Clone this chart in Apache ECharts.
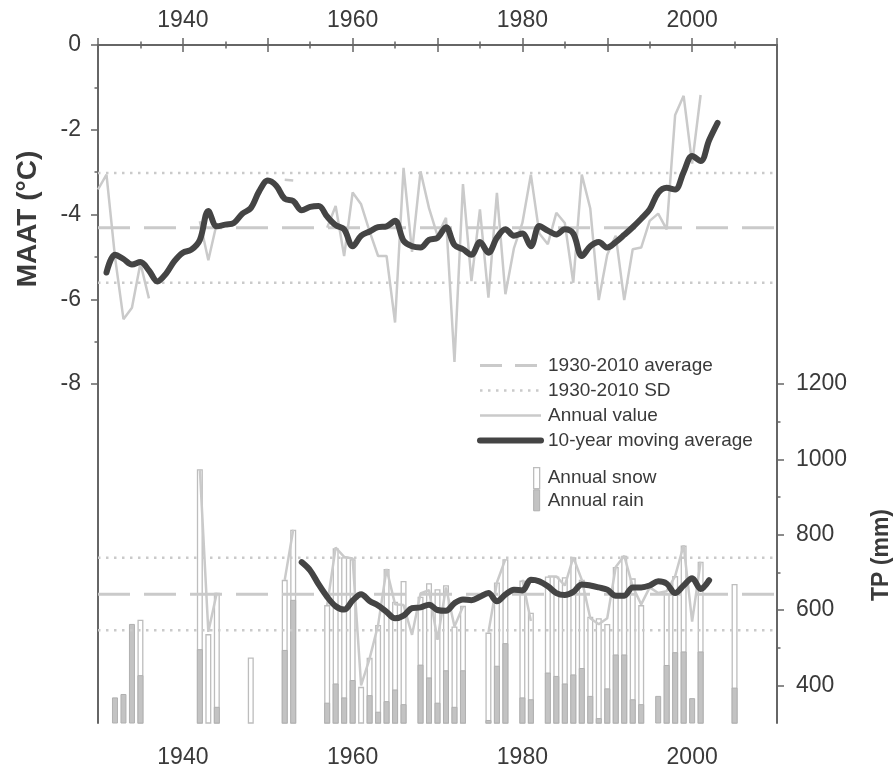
<!DOCTYPE html>
<html>
<head>
<meta charset="utf-8">
<title>MAAT and TP</title>
<script src="https://cdn.jsdelivr.net/npm/echarts@6.0.0/dist/echarts.min.js"></script>
<style>
  html, body { margin: 0; padding: 0; background: #fff; }
  #chart { width: 895px; height: 769px; }
</style>
</head>
<body>
<div id="chart"></div>
<script>
// shared x values (one entry per year)
const years = [
  1930, 1931, 1932, 1933, 1934, 1935, 1936, 1937, 1938, 1939,
  1940, 1941, 1942, 1943, 1944, 1945, 1946, 1947, 1948, 1949,
  1950, 1951, 1952, 1953, 1954, 1955, 1956, 1957, 1958, 1959,
  1960, 1961, 1962, 1963, 1964, 1965, 1966, 1967, 1968, 1969,
  1970, 1971, 1972, 1973, 1974, 1975, 1976, 1977, 1978, 1979,
  1980, 1981, 1982, 1983, 1984, 1985, 1986, 1987, 1988, 1989,
  1990, 1991, 1992, 1993, 1994, 1995, 1996, 1997, 1998, 1999,
  2000, 2001, 2002, 2003, 2004, 2005,
];

// mean annual air temperature (°C)
const maatAnnual = [
  -3.41, -3.06, -5.0, -6.47, -6.2, -5.15, -5.98, null, null, null,
  null, null, -4.16, -5.08, -4.2, null, null, null, null, null,
  null, null, -3.18, -3.2, null, null, null, -4.31, -3.8, -4.98,
  -3.48, -3.76, -4.4, -4.98, -4.98, -6.55, -2.9, -4.88, -2.98, -3.85,
  -4.5, -4.08, -7.48, -3.28, -5.57, -3.88, -5.96, -3.49, -5.88, -4.8,
  -4.2, -3.06, -4.45, -4.7, -3.96, -4.2, -5.61, -3.06, -3.86, -6.02,
  -4.95, -4.5, -6.02, -4.82, -4.78, -4.15, -3.98, -4.35, -1.65, -1.2,
  -2.8, -1.18, null, null, null, null,
];
const maatMoving = [
  null, -5.37, -4.95, -5.05, -5.18, -5.12, -5.32, -5.58, -5.4, -5.1,
  -4.9, -4.83, -4.6, -3.92, -4.28, -4.24, -4.2, -3.98, -3.85, -3.45,
  -3.2, -3.32, -3.63, -3.68, -3.9, -3.82, -3.8, -4.05, -4.25, -4.35,
  -4.75, -4.5, -4.4, -4.3, -4.28, -4.15, -4.62, -4.75, -4.78, -4.6,
  -4.55, -4.3, -4.72, -4.82, -4.95, -4.65, -4.9, -4.55, -4.35, -4.5,
  -4.45, -4.75, -4.27, -4.38, -4.47, -4.35, -4.45, -4.98, -4.75, -4.65,
  -4.78, -4.65, -4.48, -4.3, -4.1, -3.88, -3.49, -3.37, -3.41, -3.0,
  -2.62, -2.74, -2.25, -1.84, null, null,
];
const maatMean = -4.31;
const maatSdBand = [-3.02, -5.61];

// total precipitation (mm)
const tpAnnual = [
  null, null, null, null, null, null, null, null, null, null,
  null, null, 974, 542, 646, null, null, null, null, null,
  null, null, 680, 813, null, null, null, 613, 766, 741,
  737, 400, 471, 560, 709, 615, 613, 534, 644, 653,
  521, 660, 556, 609, null, null, 540, 673, 735, null,
  680, 571, null, 689, 689, 665, 740, 680, 578, 562,
  578, 714, 744, 662, 615, 660, 645, 650, 690, 772,
  569, 728, null, null, null, null,
];
const tpMoving = [
  null, null, null, null, null, null, null, null, null, null,
  null, null, null, null, null, null, null, null, null, null,
  null, null, null, null, 727, 705, 668, 635, 610, 601,
  625, 642, 624, 612, 595, 578, 585, 605, 607, 614,
  600, 598, 618, 628, 626, 635, 645, 623, 641, 654,
  652, 680, 676, 663, 645, 640, 648, 668, 665, 660,
  654, 638, 638, 660, 660, 665, 676, 670, 645, 665,
  684, 656, 679, null, null, null,
];
const rain = [
  null, null, 368, 377, 563, 427, null, null, null, null,
  null, null, 496, null, 343, null, null, null, null, null,
  null, null, 494, 627, null, null, null, 354, 405, 368,
  414, null, 374, 330, 358, 389, 350, null, 455, 421,
  354, 440, 343, 440, null, null, 308, 452, 512, null,
  368, 363, null, 434, 425, 405, 429, 446, 372, 313,
  392, 482, 482, 363, 350, null, 372, 454, 488, 490,
  366, 490, null, null, null, 394,
];
const snow = [
  null, null, null, null, null, 147, null, null, null, null,
  null, null, 478, 536, 303, null, null, null, 474, null,
  null, null, 186, 186, null, null, null, 259, 359, 372,
  321, 396, 99, 230, 351, 233, 327, null, 180, 250,
  301, 226, 213, 171, null, null, 232, 221, 223, null,
  310, 230, null, 255, 264, 282, 311, 234, 210, 265,
  171, 232, 262, 321, 263, null, null, 190, 202, 281,
  null, 238, null, null, null, 275,
];
const tpMean = 642;
const tpSdBand = [739, 546];

// axis ticks and labels
const xMajorTicks = [1930, 1940, 1950, 1960, 1970, 1980, 1990, 2000, 2010];
const xMinorTicks = [1935, 1945, 1955, 1965, 1975, 1985, 1995, 2005];
const xLabels = [1940, 1960, 1980, 2000];
const maatTicks = [0, -2, -4, -6, -8];
const maatMinorTicks = [-1, -3, -5, -7];
const tpTicks = [400, 600, 800, 1000, 1200];
const tpMinorTicks = [500, 700, 900, 1100];

const FONT = '"Liberation Sans", Arial, sans-serif';
const INK = '#3a3a3a';
const AXIS = '#666';
const LIGHT = '#cacaca';
const DARK = '#444';
const DASH = [32, 14];
const DOT = [2.5, 5.5];
const SNOW_STYLE = { color: '#fff', borderColor: '#bdbdbd', borderWidth: 1.3 };
const RAIN_STYLE = { color: '#c3c3c3', borderColor: '#b0b0b0', borderWidth: 1 };

const pairs = (vals) => years.map((y, i) => [y, vals[i]]);
const hline = (v) => [[1930, v], [2010, v]];
// snow sits on top of rain: its bar reaches rain + snow
const snowTop = years.map((y, i) => [y, snow[i] == null ? null : (rain[i] || 0) + snow[i]]);

const label = (values, margin) => ({
  customValues: values, margin, fontSize: 23, color: INK, fontFamily: FONT,
  formatter: (v) => String(v),
});
const tick = (values, length) => ({
  customValues: values, length, lineStyle: { color: AXIS, width: 1.5 },
});
const mainLine = { show: true, lineStyle: { color: AXIS, width: 2 } };
const noLine = { show: false };

const xBase = { type: 'value', min: 1930, max: 2010, splitLine: { show: false } };
const maatBase = { type: 'value', min: -16, max: 0, position: 'left', splitLine: { show: false } };
const tpBase = { type: 'value', min: 300, max: 2100, position: 'right', splitLine: { show: false } };

function lineSeries(name, data, yAxisIndex, style, z, smooth) {
  return {
    name, type: 'line', xAxisIndex: 0, yAxisIndex, data,
    symbol: 'none', silent: true, connectNulls: false, z, smooth: smooth || false,
    itemStyle: { color: style.color },
    lineStyle: style,
  };
}

const series = [
  {
    name: 'Annual snow', type: 'bar', xAxisIndex: 0, yAxisIndex: 2,
    data: snowTop, barWidth: 6, barGap: '-100%', z: 2, itemStyle: SNOW_STYLE,
  },
  {
    name: 'Annual rain', type: 'bar', xAxisIndex: 0, yAxisIndex: 2,
    data: pairs(rain), barWidth: 6, barGap: '-100%', z: 2, itemStyle: RAIN_STYLE,
  },
  lineSeries('1930-2010 average', hline(maatMean), 0, { color: LIGHT, width: 3, type: DASH }, 3),
  lineSeries('1930-2010 SD', hline(maatSdBand[0]), 0, { color: LIGHT, width: 2.5, type: DOT }, 3),
  lineSeries('1930-2010 SD', hline(maatSdBand[1]), 0, { color: LIGHT, width: 2.5, type: DOT }, 3),
  lineSeries('1930-2010 average', hline(tpMean), 2, { color: LIGHT, width: 3, type: DASH }, 3),
  lineSeries('1930-2010 SD', hline(tpSdBand[0]), 2, { color: LIGHT, width: 2.5, type: DOT }, 3),
  lineSeries('1930-2010 SD', hline(tpSdBand[1]), 2, { color: LIGHT, width: 2.5, type: DOT }, 3),
  lineSeries('Annual value', pairs(maatAnnual), 0, { color: LIGHT, width: 2.5 }, 4),
  lineSeries('Annual value', pairs(tpAnnual), 2, { color: LIGHT, width: 2.5 }, 4),
  lineSeries('10-year moving average', pairs(maatMoving), 0, { color: DARK, width: 6, cap: 'round', join: 'round' }, 5, 0.35),
  lineSeries('10-year moving average', pairs(tpMoving), 2, { color: DARK, width: 6, cap: 'round', join: 'round' }, 5, 0.35),
];

const option = {
  animation: false,
  backgroundColor: '#fff',
  grid: { left: 98, right: 118, top: 45, bottom: 46 },
  xAxis: [
    { ...xBase, position: 'bottom', axisLine: mainLine, axisTick: tick(xMajorTicks, 7), axisLabel: label(xLabels, 23) },
    { ...xBase, position: 'bottom', axisLine: noLine, axisTick: tick(xMinorTicks, 3.5), axisLabel: { show: false } },
    { ...xBase, position: 'top', axisLine: mainLine, axisTick: tick(xMajorTicks, 7), axisLabel: label(xLabels, 13) },
    { ...xBase, position: 'top', axisLine: noLine, axisTick: tick(xMinorTicks, 3.5), axisLabel: { show: false } },
  ],
  yAxis: [
    { ...maatBase, axisLine: mainLine, axisTick: tick(maatTicks, 7), axisLabel: label(maatTicks, 17) },
    { ...maatBase, axisLine: noLine, axisTick: tick(maatMinorTicks, 3.5), axisLabel: { show: false } },
    { ...tpBase, axisLine: mainLine, axisTick: tick(tpTicks, 7), axisLabel: label(tpTicks, 19) },
    { ...tpBase, axisLine: noLine, axisTick: tick(tpMinorTicks, 3.5), axisLabel: { show: false } },
  ],
  legend: [
    {
      data: [
        { name: '1930-2010 average', lineStyle: { type: [22, 13], width: 3 } },
        { name: '1930-2010 SD', lineStyle: { type: DOT, width: 2.5 } },
        { name: 'Annual value', lineStyle: { width: 2.5 } },
        { name: '10-year moving average', lineStyle: { width: 6 } },
      ],
      orient: 'vertical', left: 472, top: 351, itemWidth: 61, itemHeight: 12, itemGap: 6,
      selectedMode: false,
      itemStyle: { opacity: 0 },
      textStyle: { fontSize: 19, color: INK, fontFamily: FONT, padding: [0, 0, 0, 2] },
    },
    {
      data: [
        { name: 'Annual snow', icon: 'rect', itemStyle: SNOW_STYLE },
        { name: 'Annual rain', icon: 'rect', itemStyle: RAIN_STYLE },
      ],
      orient: 'vertical', left: 528, top: 462, itemWidth: 6, itemHeight: 21, itemGap: 0,
      selectedMode: false,
      textStyle: { fontSize: 19, color: INK, fontFamily: FONT, padding: [0, 0, 0, 3] },
    },
  ],
  graphic: [
    {
      type: 'text', x: 28, y: 219, rotation: Math.PI / 2,
      style: { text: 'MAAT (°C)', align: 'center', verticalAlign: 'middle', font: 'bold 28px ' + FONT, fill: INK },
    },
    {
      type: 'text', x: 882, y: 555, rotation: Math.PI / 2,
      style: { text: 'TP (mm)', align: 'center', verticalAlign: 'middle', font: 'bold 23px ' + FONT, fill: INK },
    },
  ],
  series,
};

echarts.init(document.getElementById('chart')).setOption(option);
</script>
</body>
</html>
